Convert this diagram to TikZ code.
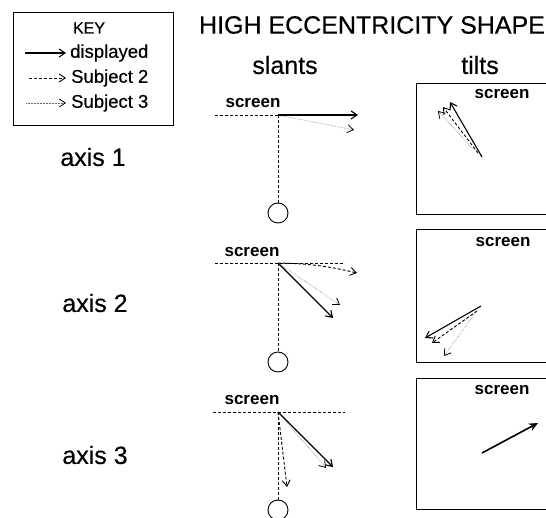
\documentclass[tikz,border=0pt]{standalone}
\usepackage{fontspec}
\setmainfont{Liberation Sans}
\newfontfamily\heavyfont{Liberation Sans}[FakeBold=0.4]
\usetikzlibrary{arrows.meta}
\tikzset{
  disp/.style={line width=1.1pt,-{Straight Barb[length=6pt,width=8pt,line width=1.1pt]}},
  subtwo/.style={line width=0.9pt,dash pattern=on 3pt off 2pt,-{Straight Barb[length=6pt,width=8pt,line width=0.9pt]}},
  subthree/.style={line width=0.5pt,densely dotted,draw=black!60,-{Straight Barb[length=6pt,width=8pt,line width=0.8pt,color=black]}},
  scrline/.style={line width=0.8pt,dash pattern=on 3pt off 2pt},
  axline/.style={line width=0.9pt,dash pattern=on 3pt off 2pt},
  scrlabel/.style={font=\fontsize{17}{20}\selectfont\bfseries, inner sep=0pt},
  keytext/.style={font=\heavyfont\fontsize{18.5}{22}\selectfont, anchor=west, inner sep=0pt},
  axlabel/.style={font=\heavyfont\fontsize{25}{30}\selectfont, inner sep=0pt},
  headlabel/.style={font=\heavyfont\fontsize{25}{30}\selectfont, inner sep=0pt},
  eye/.style={circle, draw, line width=0.9pt, minimum size=20pt, inner sep=0pt},
  tiltbox/.style={draw, line width=1pt, anchor=north west, minimum width=130pt, minimum height=131pt, inner sep=0pt}
}
\begin{document}
\begin{tikzpicture}[x=1pt,y=-1pt]
\useasboundingbox (0,0) rectangle (546,518);
% key
\node[draw, line width=1pt, anchor=north west, minimum width=160pt, minimum height=113pt, inner sep=0pt] (keybox) at (13,12) {};
\node[font=\heavyfont\fontsize{16}{19}\selectfont, inner sep=0pt] (keyt) at (89,28) {KEY};
\coordinate (k1a) at (25,53); \coordinate (k1b) at (66,53);
\coordinate (k2a) at (29,78); \coordinate (k2b) at (66,78);
\coordinate (k3a) at (26,103); \coordinate (k3b) at (66,103);
\draw[disp] (k1a) -- (k1b);
\draw[subtwo] (k2a) -- (k2b);
\draw[subthree] (k3a) -- (k3b);
\node[keytext] (kt1) at (70,53) {displayed};
\node[keytext] (kt2) at (71,78) {Subject 2};
\node[keytext] (kt3) at (71,103) {Subject 3};
% headings
\node[headlabel] (title) at (372,25) {HIGH ECCENTRICITY SHAPE};
\node[headlabel] (slants) at (285,65) {slants};
\node[headlabel] (tilts) at (480,65) {tilts};
% axis labels
\node[axlabel] (ax1) at (93,157) {axis 1};
\node[axlabel] (ax2) at (95,303) {axis 2};
\node[axlabel] (ax3) at (95,455) {axis 3};
% ---- slants, axis 1
\coordinate (o1) at (278,115);
\coordinate (s1l) at (215,115); \coordinate (s1r) at (345,115);
\node[scrlabel] (sc1) at (253,103) {screen};
\draw[scrline] (s1l) -- (s1r);
\node[eye] (e1) at (278,213) {};
\draw[axline] (o1) -- (e1.north);
\coordinate (d1) at (358,115); \coordinate (t1) at (354,130);
\draw[subthree] (o1) -- (t1);
\draw[disp] (o1) -- (d1);
% ---- slants, axis 2
\coordinate (o2) at (278,263);
\coordinate (s2l) at (215,263); \coordinate (s2r) at (345,263);
\node[scrlabel] (sc2) at (252,252) {screen};
\draw[scrline] (s2l) -- (s2r);
\node[eye] (e2) at (278,362) {};
\draw[axline] (o2) -- (e2.north);
\coordinate (d2) at (333,318); \coordinate (t2) at (340,305); \coordinate (u2) at (357,273);
\draw[subthree] (o2) -- (t2);
\draw[subtwo] (o2) to[bend left=6] (u2);
\draw[disp] (o2) -- (d2);
% ---- slants, axis 3
\coordinate (o3) at (278,412);
\coordinate (s3l) at (213,412); \coordinate (s3r) at (345,412);
\node[scrlabel] (sc3) at (252,400) {screen};
\draw[scrline] (s3l) -- (s3r);
\node[eye] (e3) at (278,510) {};
\draw[axline] (o3) -- (e3.north);
\coordinate (d3) at (333,467); \coordinate (t3) at (326,468); \coordinate (u3) at (287,487);
\draw[subthree] (o3) -- (t3);
\draw[subtwo] (o3) -- (u3);
\draw[disp] (o3) -- (d3);
% ---- tilts, box 1
\node[tiltbox] (b1) at (416,83) {};
\node[scrlabel] (tc1) at (502,94) {screen};
\coordinate (b1d0) at (482,157); \coordinate (b1d1) at (450,102);
\coordinate (b1u0) at (478,153); \coordinate (b1u1) at (443,107);
\coordinate (b1t0) at (474,150); \coordinate (b1t1) at (438,111);
\draw[subthree] (b1t0) -- (b1t1);
\draw[subtwo] (b1u0) -- (b1u1);
\draw[disp] (b1d0) -- (b1d1);
% ---- tilts, box 2
\node[tiltbox, minimum height=133pt] (b2) at (416,229) {};
\node[scrlabel] (tc2) at (503,242) {screen};
\coordinate (b2d0) at (481,306); \coordinate (b2d1) at (425,338);
\coordinate (b2u0) at (477,311); \coordinate (b2u1) at (432,343);
\coordinate (b2t0) at (476,312); \coordinate (b2t1) at (444,356);
\draw[subthree] (b2t0) -- (b2t1);
\draw[subtwo] (b2u0) -- (b2u1);
\draw[disp] (b2d0) -- (b2d1);
% ---- tilts, box 3
\node[tiltbox] (b3) at (416,378) {};
\node[scrlabel] (tc3) at (502,390) {screen};
\coordinate (b3d0) at (482,453); \coordinate (b3d1) at (538,423);
\draw[line width=1.6pt,-{Stealth[length=9pt,width=8pt]}] (b3d0) -- (b3d1);
\end{tikzpicture}
\end{document}
